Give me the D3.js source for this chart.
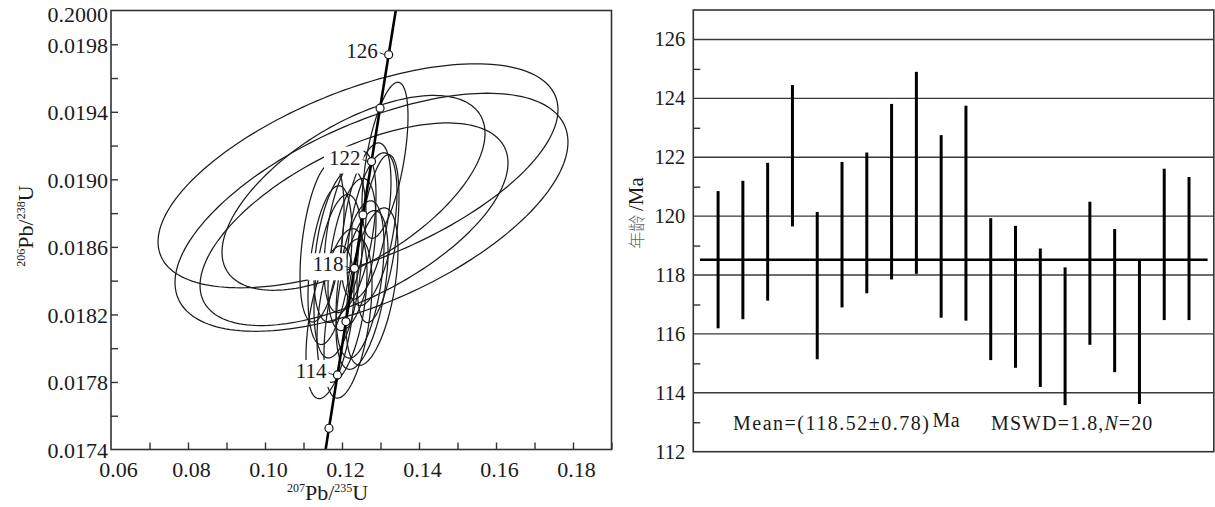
<!DOCTYPE html>
<html><head><meta charset="utf-8">
<script src="https://cdn.jsdelivr.net/npm/d3@7/dist/d3.min.js"></script>
<style>
html,body{margin:0;padding:0;background:#fff;}
svg{display:block;font-family:"Liberation Serif","Times New Roman",serif;}
</style></head><body>
<svg id="chart" width="1215" height="507"></svg>
<script>
// ---- LA-ICP-MS zircon U-Pb analyses (20 spots) ----
// isotope ratios, 1-sigma errors and error correlation
const pb207u235 = [0.12260,0.11948,0.12779,0.13117,0.11896,0.12208,0.12623,0.12299,0.12416,0.12312,
                   0.12766,0.12468,0.12779,0.12000,0.11688,0.11688,0.12520,0.12156,0.12935,0.11481];
const sig207u235 = [0.002547,0.002759,0.002653,0.00244,0.002547,0.002759,0.002653,0.013955,0.02122,0.01634,
                    0.02085,0.002547,0.002759,0.002653,0.002547,0.002335,0.002759,0.002547,0.002228,0.002335];
const pb206u238 = [0.018555,0.018607,0.018705,0.019113,0.018426,0.018689,0.018753,0.018920,0.019021,0.018734,
                   0.018805,0.018407,0.018365,0.018253,0.018154,0.018492,0.018345,0.018176,0.018649,0.018626];
const sig206u238 = [0.0001841,0.0001858,0.0001849,0.0001887,0.0001977,0.0001953,0.000189,0.0002357,0.000271,0.0002451,
                    0.000288,0.0001904,0.0001904,0.0001858,0.0001849,0.0001921,0.0001921,0.0001928,0.0002032,0.0001921];
const errCorr = [0.45,0.42,0.48,0.56,0.40,0.46,0.50,0.61,0.59,0.605,
                 0.59,0.44,0.47,0.43,0.45,0.40,0.48,0.44,0.50,0.42];

// 206Pb/238U ages (Ma) and 2-sigma errors
const ages = [118.52,118.85,119.47,122.05,117.64,119.37,119.77,120.83,121.47,119.65,
              120.10,117.52,117.26,116.55,115.92,118.06,117.13,116.06,119.04,118.90];
const ageErr = [2.33,2.35,2.34,2.40,2.50,2.47,2.39,2.98,3.43,3.10,
                3.65,2.41,2.41,2.35,2.34,2.43,2.43,2.44,2.57,2.43];
const meanAge = 118.52, meanErr = 0.78, mswd = 1.8;

// concordia age marks (Ma)
const concordiaMarks = [112,114,116,118,120,122,124,126];
const concordiaLabels = [114,118,122,126];

// axis ticks
const xTickValues = [0.06,0.08,0.10,0.12,0.14,0.16,0.18];
const xTickLabels = ["0.06","0.08","0.10","0.12","0.14","0.16","0.18"];
const yTickValues = [0.0174,0.0178,0.0182,0.0186,0.0190,0.0194,0.0198,0.0200];
const yTickLabels = ["0.0174","0.0178","0.0182","0.0186","0.0190","0.0194","0.0198","0.2000"];
const ageTickValues = [112,114,116,118,120,122,124,126];
const ageTickLabels = ["112","114","116","118","120","122","124","126"];

// decay constants (per year)
const L238 = 1.55125e-10, L235 = 9.8485e-10;
const K95 = 2.4477; // 95% confidence ellipse scaling

const svg = d3.select("#chart");
const ink = "#1a1a1a";

// ================= concordia diagram =================
const L = {left:111, right:611.5, top:10.5, bottom:449.5};
const x = d3.scaleLinear().domain([0.06,0.19]).range([L.left, L.right]);
const y = d3.scaleLinear().domain([0.0174,0.0200]).range([L.bottom, L.top]);

svg.append("defs").append("clipPath").attr("id","clipL")
  .append("rect").attr("x",L.left).attr("y",L.top)
  .attr("width",L.right-L.left).attr("height",L.bottom-L.top);

const plot = svg.append("g").attr("clip-path","url(#clipL)");

// error ellipses
const ellipseLine = d3.line().x(d=>x(d[0])).y(d=>y(d[1])).curve(d3.curveLinearClosed);
const theta = d3.range(0, 2*Math.PI, Math.PI/90);
pb207u235.forEach((cx,i)=>{
  const ax = K95*sig207u235[i], ay = K95*sig206u238[i], r = errCorr[i];
  const pts = theta.map(t=>[cx + ax*Math.cos(t),
                            pb206u238[i] + ay*(r*Math.cos(t) + Math.sqrt(1-r*r)*Math.sin(t))]);
  plot.append("path").attr("d", ellipseLine(pts))
    .attr("fill","none").attr("stroke","#1c1c1c").attr("stroke-width",1.25);
});

// concordia curve
const ratios = t => [Math.exp(L235*t*1e6)-1, Math.exp(L238*t*1e6)-1];
const curveAges = d3.range(100, 140.01, 0.25);
plot.append("path")
  .attr("d", d3.line().x(d=>x(ratios(d)[0])).y(d=>y(ratios(d)[1]))(curveAges))
  .attr("fill","none").attr("stroke","#000").attr("stroke-width",2.6);

// age labels with white backing
const labG = svg.append("g");
concordiaLabels.forEach(a=>{
  const [rx, ry] = ratios(a);
  const px = x(rx), py = y(ry);
  const t = labG.append("text").attr("x",px-11).attr("y",py+3)
    .attr("text-anchor","end").attr("font-size",21).attr("fill",ink).text(a);
  const bb = t.node().getBBox();
  labG.insert("rect","text").attr("x",bb.x-5).attr("y",bb.y+1)
    .attr("width",bb.width+8).attr("height",bb.height+3).attr("fill","#fff");
  labG.append("line").attr("x1",px-9).attr("y1",py-2).attr("x2",px-4).attr("y2",py)
    .attr("stroke","#333").attr("stroke-width",1);
});

// age marks on concordia
svg.append("g").selectAll("circle").data(concordiaMarks).join("circle")
  .attr("cx",d=>x(ratios(d)[0])).attr("cy",d=>y(ratios(d)[1])).attr("r",4)
  .attr("fill","#fff").attr("stroke","#111").attr("stroke-width",1.2);

// frame and inner ticks
svg.append("rect").attr("x",L.left).attr("y",L.top)
  .attr("width",L.right-L.left).attr("height",L.bottom-L.top)
  .attr("fill","none").attr("stroke","#333").attr("stroke-width",1.6);
const gxL = svg.append("g").attr("transform",`translate(0,${L.bottom})`)
  .call(d3.axisBottom(x).tickValues(d3.range(0.07,0.1901,0.01)).tickSize(-7).tickFormat(""));
const gyL = svg.append("g").attr("transform",`translate(${L.left},0)`)
  .call(d3.axisLeft(y).tickValues(d3.range(0.0176,0.01995,0.0002)).tickSize(-7).tickFormat(""));
[gxL,gyL].forEach(g=>{ g.select(".domain").remove();
  g.selectAll("line").attr("stroke","#333").attr("stroke-width",1.4); });

// tick labels
svg.append("g").selectAll("text").data(xTickValues).join("text")
  .attr("x",(d,i)=>x(d)+(i===0?7.5:3.5)).attr("y",L.bottom+27.5)
  .attr("text-anchor","middle").attr("font-size",22).attr("fill",ink)
  .text((d,i)=>xTickLabels[i]);
svg.append("g").selectAll("text").data(yTickValues).join("text")
  .attr("x",L.left-3).attr("y",d=>Math.min(Math.max(y(d)+8.5, L.top+11.5), L.bottom+10.5))
  .attr("text-anchor","end").attr("font-size",22).attr("fill",ink)
  .text((d,i)=>yTickLabels[i]);

// axis titles
function isoTitle(sel, a, b){
  sel.append("tspan").attr("font-size",12).attr("dy",-8).text(a);
  sel.append("tspan").attr("font-size",22).attr("dy",8).text("Pb/");
  sel.append("tspan").attr("font-size",12).attr("dy",-8).text(b);
  sel.append("tspan").attr("font-size",22).attr("dy",8).text("U");
}
svg.append("text").attr("x",287).attr("y",500).attr("fill",ink)
  .call(isoTitle,"207","235");
svg.append("text").attr("transform","translate(33,226) rotate(-90)")
  .attr("text-anchor","middle").attr("fill",ink).call(isoTitle,"206","238");

// ================= weighted-mean age plot =================
const R = {left:693.3, right:1213.8, top:10, bottom:451.7};
const xi = d3.scaleLinear().domain([0,21]).range([R.left,R.right]);
const ya = d3.scaleLinear().domain([112,127]).range([R.bottom,R.top]);

// grid lines
svg.append("g").selectAll("line").data(ageTickValues.slice(1)).join("line")
  .attr("x1",R.left).attr("x2",R.right).attr("y1",d=>ya(d)).attr("y2",d=>ya(d))
  .attr("stroke","#3a3a3a").attr("stroke-width",1.4);

// minor ticks
const gyR = svg.append("g").attr("transform",`translate(${R.left},0)`)
  .call(d3.axisLeft(ya).tickValues(d3.range(113,127,2)).tickSize(-7).tickFormat(""));
gyR.select(".domain").remove();
gyR.selectAll("line").attr("stroke","#333").attr("stroke-width",1.4);

// mean line
svg.append("line").attr("x1",xi(0.27)).attr("x2",xi(20.75))
  .attr("y1",ya(meanAge)).attr("y2",ya(meanAge))
  .attr("stroke","#000").attr("stroke-width",2.6);

// error bars
svg.append("g").selectAll("line").data(ages).join("line")
  .attr("x1",(d,i)=>xi(i+1)).attr("x2",(d,i)=>xi(i+1))
  .attr("y1",(d,i)=>ya(d+ageErr[i])).attr("y2",(d,i)=>ya(d-ageErr[i]))
  .attr("stroke","#000").attr("stroke-width",3);

// frame
svg.append("rect").attr("x",R.left).attr("y",R.top)
  .attr("width",R.right-R.left).attr("height",R.bottom-R.top)
  .attr("fill","none").attr("stroke","#333").attr("stroke-width",1.6);

// tick labels
svg.append("g").selectAll("text").data(ageTickValues).join("text")
  .attr("x",R.left-8).attr("y",d=>ya(d)+7)
  .attr("text-anchor","end").attr("font-size",20.5).attr("fill",ink)
  .text((d,i)=>ageTickLabels[i]);

// axis title
const yt = svg.append("text").attr("transform","translate(643,213) rotate(-90)")
  .attr("text-anchor","middle");
yt.append("tspan").attr("font-family","'Noto Sans CJK SC',sans-serif").attr("font-size",17)
  .attr("fill","#666").attr("font-weight",300).text("年龄 ");
yt.append("tspan").attr("font-size",21).attr("fill",ink).text("/Ma");

// statistics
const st = svg.append("text").attr("x",733).attr("y",430).attr("font-size",20)
  .attr("fill",ink).attr("letter-spacing",1.5);
st.append("tspan").text(`Mean=(${meanAge.toFixed(2)}±${meanErr.toFixed(2)})`);
st.append("tspan").attr("dx",2).attr("dy",-3).attr("letter-spacing",0.5).text("Ma");
const st2 = svg.append("text").attr("x",991).attr("y",430).attr("font-size",20)
  .attr("fill",ink).attr("letter-spacing",1.1);
st2.append("tspan").text(`MSWD=${mswd},`);
st2.append("tspan").attr("font-style","italic").text("N");
st2.append("tspan").text(`=${ages.length}`);
</script>
</body></html>
